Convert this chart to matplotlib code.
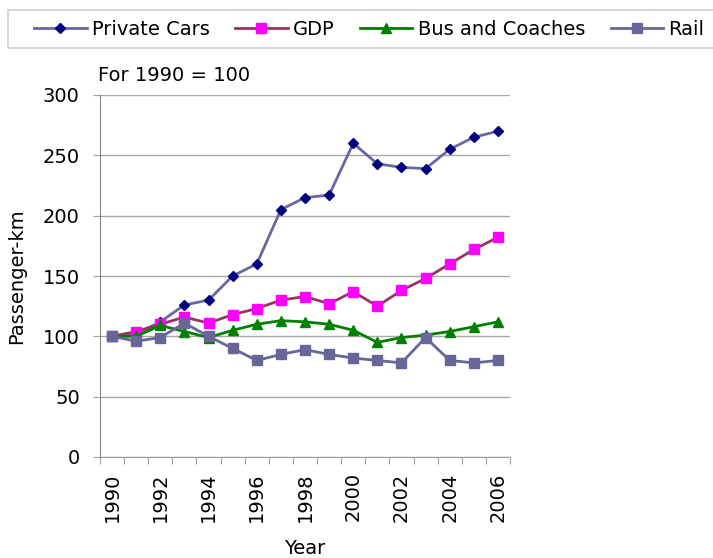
import matplotlib.pyplot as plt
from matplotlib.patches import Rectangle
import numpy as np

years = list(range(1990, 2007))
private_cars = [100, 102, 112, 126, 130, 150, 160, 205, 215, 217, 260, 243, 240, 239, 255, 265, 270]
gdp = [100, 104, 110, 116, 111, 118, 123, 130, 133, 127, 137, 125, 138, 148, 160, 172, 182]
bus_coaches = [100, 100, 109, 104, 99, 105, 110, 113, 112, 110, 105, 95, 99, 101, 104, 108, 112]
rail = [100, 96, 99, 111, 100, 90, 80, 85, 89, 85, 82, 80, 78, 99, 80, 78, 80]

plt.rcParams['font.family'] = ['DejaVu Sans']
W, H = 713, 558
fig = plt.figure(figsize=(W / 100, H / 100), dpi=100)
ax = fig.add_axes([100 / W, 1 - 457 / H, 410 / W, 362 / H])

x = np.arange(len(years))
ax.plot(x, private_cars, color='#6868A2', lw=2, marker='D', ms=4.8,
        mfc='#000080', mec='#000080', label='Private Cars')
ax.plot(x, gdp, color='#993366', lw=2, marker='s', ms=6.5,
        mfc='#FF00FF', mec='#FF00FF', label='GDP')
ax.plot(x, bus_coaches, color='#008000', lw=2, marker='^', ms=7.5,
        mfc='#008000', mec='#008000', label='Bus and Coaches')
ax.plot(x, rail, color='#666699', lw=2, marker='s', ms=6.5,
        mfc='#666699', mec='#666699', label='Rail')

ax.set_xlim(-0.5, len(years) - 0.5)
ax.set_ylim(0, 300)
ax.set_yticks(range(0, 301, 50))
ax.yaxis.grid(True, color='#A8A8A8', lw=1)
ax.set_axisbelow(True)

# category axis: tick marks between categories, labels centred on every other year
ax.set_xticks(np.arange(-0.5, len(years), 1))
ax.set_xticklabels([])
ax.set_xticks(x[::2], minor=True)
ax.set_xticklabels([str(y) for y in years[::2]], minor=True, rotation=90, fontsize=14)
ax.tick_params(axis='x', which='major', length=5, color='#A0A0A0')
ax.tick_params(axis='x', which='minor', length=0, pad=11)
ax.tick_params(axis='y', length=5, color='#A0A0A0', labelsize=14, pad=9.5)

for side in ['top', 'right']:
    ax.spines[side].set_visible(False)
ax.spines['left'].set_color('#868686')
ax.spines['bottom'].set_color('#A0A0A0')

fig.text(305 / W, 1 - 549 / H, 'Year', fontsize=14, ha='center', va='center')
fig.text(17 / W, 1 - 276 / H, 'Passenger-km', fontsize=14, rotation=90,
         ha='center', va='center')
fig.text(98 / W, 1 - 81 / H, 'For 1990 = 100', fontsize=14, ha='left', va='baseline')

# legend strip across the top, open on the right
fig.patches.append(Rectangle((8 / W, 1 - 48 / H), 720 / W, 38 / H,
                             transform=fig.transFigure, fill=False,
                             edgecolor='#D0D0D0', lw=1.2))
fig.legend(loc='center left', bbox_to_anchor=(34 / W, 1 - 29.5 / H), ncol=4,
           frameon=False, prop={'size': 14}, borderpad=0, borderaxespad=0,
           handlelength=2.7, columnspacing=1.3, handletextpad=0.28)

fig.savefig('out.png', dpi=100)
